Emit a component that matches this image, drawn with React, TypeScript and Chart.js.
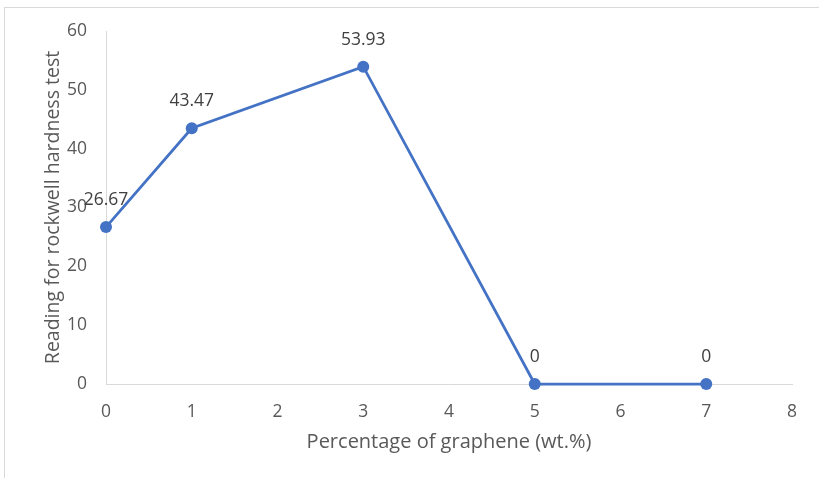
import React, { useEffect, useRef } from "react";
import { Chart, registerables } from "chart.js";

Chart.register(...registerables);

// Rockwell hardness readings vs. graphene content
const grapheneWt: number[] = [0, 1, 3, 5, 7];
const hardness: number[] = [26.67, 43.47, 53.93, 0, 0];
const hardnessLabels: string[] = ["26.67", "43.47", "53.93", "0", "0"];

const xTitle = "Percentage of graphene (wt.%)";
const yTitle = "Reading for rockwell hardness test";

const FONT = "'Open Sans', sans-serif";
const AXIS_GRAY = "#595959";
const LINE_BLUE = "#4472C4";

const valueLabels = {
  id: "valueLabels",
  afterDatasetsDraw(chart: any) {
    const { ctx } = chart;
    const meta = chart.getDatasetMeta(0);
    ctx.save();
    ctx.font = `17.5px ${FONT}`;
    ctx.fillStyle = "#404040";
    ctx.textAlign = "center";
    ctx.textBaseline = "middle";
    meta.data.forEach((pt: any, i: number) => {
      ctx.fillText(hardnessLabels[i], pt.x, pt.y - 27);
    });
    ctx.restore();
  },
};

export default function App() {
  const canvasRef = useRef<HTMLCanvasElement | null>(null);

  useEffect(() => {
    if (!canvasRef.current) return;
    const chart = new Chart(canvasRef.current, {
      type: "line",
      data: {
        datasets: [
          {
            data: grapheneWt.map((x, i) => ({ x, y: hardness[i] })),
            borderColor: LINE_BLUE,
            backgroundColor: LINE_BLUE,
            borderWidth: 2.75,
            pointRadius: 6,
            pointBackgroundColor: LINE_BLUE,
            pointBorderColor: LINE_BLUE,
            pointBorderWidth: 0,
            tension: 0,
            clip: false,
          } as any,
        ],
      },
      options: {
        responsive: false,
        animation: false,
        layout: { padding: { left: 0, right: 27, top: 31, bottom: 0 } },
        plugins: {
          legend: { display: false },
          tooltip: { enabled: false },
        },
        scales: {
          x: {
            type: "linear",
            min: 0,
            max: 8,
            grid: { display: false, drawTicks: false },
            border: { display: true, color: "#d9d9d9", width: 1 },
            ticks: {
              stepSize: 1,
              padding: 18,
              color: AXIS_GRAY,
              font: { family: FONT, size: 17.5 },
            },
            title: {
              display: true,
              text: xTitle,
              color: AXIS_GRAY,
              font: { family: FONT, size: 20 },
              padding: { top: 0, bottom: 24 },
            },
            afterFit: (scale: any) => {
              scale.height = 94;
            },
          },
          y: {
            min: 0,
            max: 60,
            grid: { display: false, drawTicks: false },
            border: { display: true, color: "#d9d9d9", width: 1 },
            ticks: {
              stepSize: 10,
              padding: 19,
              color: AXIS_GRAY,
              font: { family: FONT, size: 17.5 },
            },
            title: {
              display: true,
              text: yTitle,
              color: AXIS_GRAY,
              font: { family: FONT, size: 19.5 },
              padding: { top: 42, bottom: 0 },
            },
            afterFit: (scale: any) => {
              scale.width = 106;
            },
          },
        },
      },
      plugins: [valueLabels],
    });
    return () => chart.destroy();
  }, []);

  return (
    <div style={{ position: "absolute", left: 0, top: 0, width: 819, height: 478, background: "#fff", overflow: "hidden" }}>
      <div
        style={{
          position: "absolute",
          left: 4,
          top: 7,
          width: 830,
          height: 490,
          borderTop: "1px solid #d9d9d9",
          borderLeft: "1px solid #d9d9d9",
        }}
      />
      <canvas ref={canvasRef} width={819} height={478} style={{ position: "absolute", left: 0, top: 0 }} />
    </div>
  );
}
